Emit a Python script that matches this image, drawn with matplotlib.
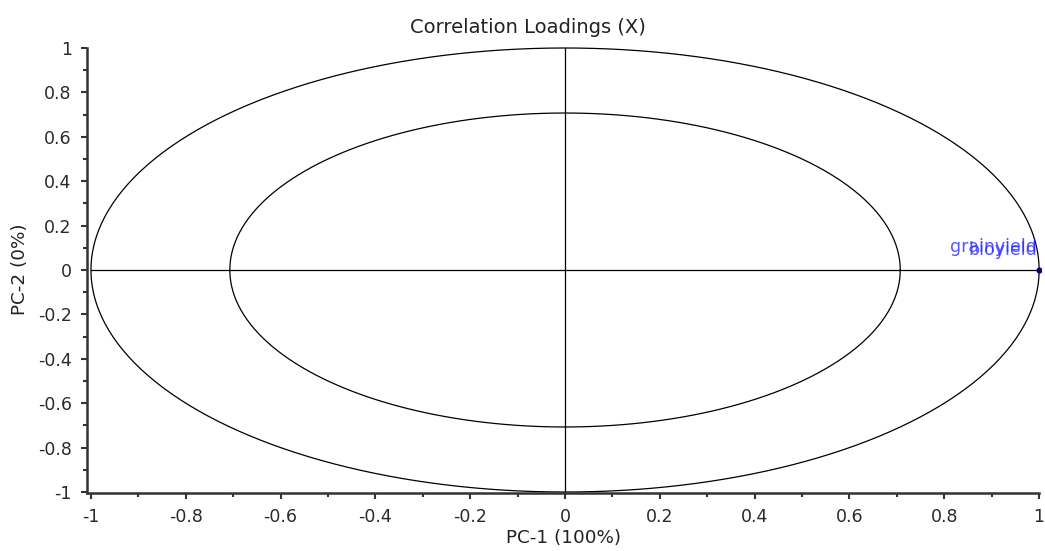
import numpy as np
import matplotlib
matplotlib.use("Agg")
import matplotlib.pyplot as plt
from matplotlib.ticker import MultipleLocator

# ----------------------------------------------------------------------
# Data
# ----------------------------------------------------------------------
variables = ["grainyield", "bioyield"]
pc1 = [1.0, 1.0]
pc2 = [0.0, 0.0]
label_dy = [0.081, 0.068]
circle_radii = [1.0, np.sqrt(0.5)]

plt.rcParams["font.family"] = ["DejaVu Sans"]

fig = plt.figure(figsize=(10.45, 5.51), dpi=100)
ax = fig.add_axes([87 / 1045, 58 / 551, (1041 - 87) / 1045, (493 - 46) / 551])

# circles
t = np.linspace(0, 2 * np.pi, 400)
for r in circle_radii:
    ax.plot(r * np.cos(t), r * np.sin(t), color="black", lw=0.9)

# cross lines
ax.plot([-1, 1], [0, 0], color="black", lw=0.9)
ax.plot([0, 0], [-1, 1], color="black", lw=0.9)

# points + labels (the two loadings coincide, labels overlap as in the original)
ax.scatter(pc1, pc2, s=10, color="#000080", zorder=3)
for name, x, y, dy in zip(variables, pc1, pc2, label_dy):
    ax.text(x - 0.004, y + dy, name, color="#2d2dff", fontsize=12.5, alpha=0.8,
            ha="right", va="baseline")

ax.set_xlim(-1.0084, 1.004)
ax.set_ylim(-1.0045, 1.009)

ax.xaxis.set_major_locator(MultipleLocator(0.2))
ax.xaxis.set_minor_locator(MultipleLocator(0.1))
ax.yaxis.set_major_locator(MultipleLocator(0.2))
ax.yaxis.set_minor_locator(MultipleLocator(0.1))

fmt = lambda v, p: "%g" % round(v, 2) if abs(v) > 1e-9 else "0"
ax.xaxis.set_major_formatter(plt.FuncFormatter(fmt))
ax.yaxis.set_major_formatter(plt.FuncFormatter(fmt))

for side in ["top", "right"]:
    ax.spines[side].set_visible(False)
for side in ["left", "bottom"]:
    ax.spines[side].set_linewidth(1.8)
    ax.spines[side].set_color("#333333")
ax.spines["left"].set_bounds(-1.0045, 1.0)
ax.spines["bottom"].set_bounds(-1.0084, 1.0)

ax.tick_params(which="both", direction="out", color="#333333", width=1.5,
               labelsize=12.5, labelcolor="#2a2a2a")
ax.tick_params(which="major", length=4)
ax.tick_params(which="minor", length=3)
ax.tick_params(axis="x", which="major", pad=7)
ax.tick_params(axis="y", which="major", pad=7)

fig.suptitle("Correlation Loadings (X)", fontsize=14, x=0.505, y=0.967,
             va="top", color="#222222")
ax.set_xlabel("PC-1 (100%)", fontsize=13.2, labelpad=2, color="#222222")
ax.set_ylabel("PC-2 (0%)", fontsize=13.2, labelpad=6, color="#222222")

fig.savefig("out.png", dpi=100)
